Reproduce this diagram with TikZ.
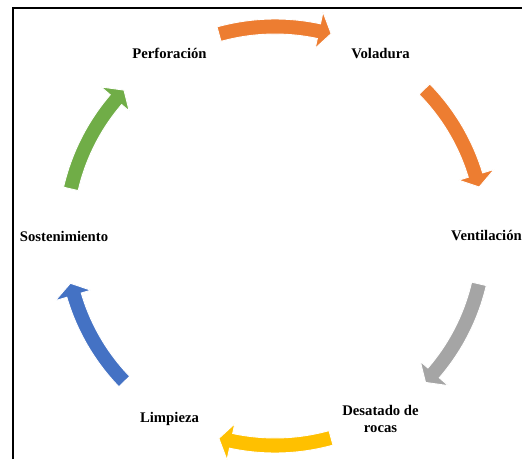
\documentclass[tikz,border=0pt]{standalone}
\usepackage{fontspec}
\setmainfont{Liberation Serif}
\definecolor{aorange}{HTML}{ED7D31}
\definecolor{agray}{HTML}{A5A5A5}
\definecolor{ayellow}{HTML}{FFC000}
\definecolor{ablue}{HTML}{4472C4}
\definecolor{agreen}{HTML}{70AD47}
\tikzset{
  lbl/.style={font=\fontsize{14.7}{17}\selectfont\bfseries, align=center, inner sep=0pt},
  frameline/.style={line width=1.8pt, black},
}
% #1 = mid angle, #2 = colour
\newcommand{\cycarrow}[2]{%
  \pgfmathsetmacro{\aone}{#1+15.5}%
  \pgfmathsetmacro{\atwo}{#1-12.1}%
  \pgfmathsetmacro{\athree}{#1-15.5}%
  \fill[#2, draw=white, line width=0.9pt]
    (\aone:217) arc[start angle=\aone, end angle=\atwo, radius=217]
    -- (\atwo:229) -- (\athree:210) -- (\atwo:192) -- (\atwo:202)
    arc[start angle=\atwo, end angle=\aone, radius=202] -- cycle;
}
\begin{document}
\begin{tikzpicture}[x=1pt,y=1pt]
\useasboundingbox (0,0) rectangle (522,459);
\fill[white] (0,0) rectangle (522,459);
\draw[frameline] (13,0) -- (13,450.7) -- (522,450.7);
\begin{scope}[shift={(275,223)}]
  \cycarrow{90}{aorange}
  \cycarrow{29}{aorange}
  \cycarrow{-28.7}{agray}
  \cycarrow{-90}{ayellow}
  \cycarrow{208.5}{ablue}
  \cycarrow{151.5}{agreen}
  \node[lbl] (perf) at (120:211) {Perforación};
  \node[lbl] (vola) at (60:211) {Voladura};
  \node[lbl] (vent) at (0:211.5) {Ventilación};
  \node[lbl] (desa) at (-60:211) {Desatado de\\rocas};
  \node[lbl] (limp) at (-120:211) {Limpieza};
  \node[lbl] (sost) at (180:211) {Sostenimiento};
\end{scope}
\end{tikzpicture}
\end{document}
